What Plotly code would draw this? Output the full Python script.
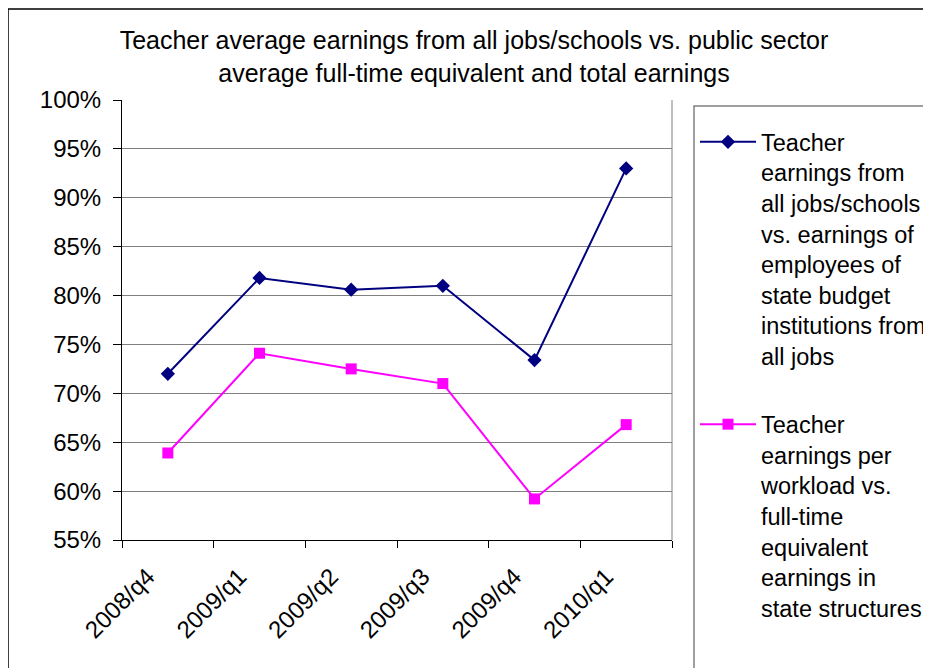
import plotly.graph_objects as go

categories = ["2008/q4", "2009/q1", "2009/q2", "2009/q3", "2009/q4", "2010/q1"]
teacher_all_jobs = [0.720, 0.818, 0.806, 0.810, 0.734, 0.930]
teacher_per_workload = [0.639, 0.741, 0.725, 0.710, 0.592, 0.668]

name_all_jobs = ("Teacher<br>earnings from<br>all jobs/schools<br>vs. earnings of<br>"
                 "employees of<br>state budget<br>institutions from<br>all jobs")
name_workload = ("Teacher<br>earnings per<br>workload vs.<br>full-time<br>equivalent<br>"
                 "earnings in<br>state structures")

FONT = "Liberation Sans, Arial, sans-serif"

fig = go.Figure()
fig.add_trace(go.Scatter(
    x=categories, y=teacher_all_jobs, mode="lines+markers", name=name_all_jobs,
    legendgroup="a",
    line=dict(color="#000080", width=2),
    marker=dict(symbol="diamond", size=11, color="#000080"),
))
fig.add_trace(go.Scatter(
    x=categories, y=teacher_per_workload, mode="lines+markers", name=name_workload,
    legendgroup="b",
    line=dict(color="#FF00FF", width=2),
    marker=dict(symbol="square", size=11, color="#FF00FF"),
))

# page has an 8px body margin: work in reference pixel coordinates, shift by OFF
OFF = 8
W, H = 931 - OFF, 668 - OFF
PL, PR, PT, PB = 122, 672, 100, 540   # plot area in reference pixels
L, R, T, B = PL - OFF, (931 - PR), PT - OFF, (668 - PB)
pw, ph = W - L - R, H - T - B

def px_x(x):
    return (x - PL) / pw

def px_y(y):
    return (PB - y) / ph

fig.update_layout(
    width=W, height=H,
    margin=dict(l=L, r=R, t=T, b=B, autoexpand=False),
    paper_bgcolor="white", plot_bgcolor="white",
    font=dict(family=FONT, size=24, color="black"),
    title=dict(
        text="Teacher average earnings from all jobs/schools vs. public sector<br>"
             "average full-time equivalent and total earnings",
        x=(474 - OFF) / W, xref="container", xanchor="center",
        y=1 - (49 - OFF) / H, yref="container", yanchor="top",
        font=dict(family=FONT, size=25, color="black"),
    ),
    xaxis=dict(
        type="category", range=[-0.5, 5.5],
        showline=True, linecolor="black", linewidth=1,
        ticks="outside", tickson="boundaries", ticklen=7, tickcolor="black",
        tickangle=-45, ticklabelshift=-20, ticklabelstandoff=12,
        showgrid=False, zeroline=False,
        tickfont=dict(family=FONT, size=24),
    ),
    yaxis=dict(
        range=[0.55, 1.0], dtick=0.05, tick0=0.55, tickformat=".0%",
        showline=True, linecolor="black", linewidth=1,
        ticks="outside", ticklen=8, tickcolor="black",
        ticklabelstandoff=7,
        showgrid=True, gridcolor="#808080", gridwidth=1,
        zeroline=False,
        tickfont=dict(family=FONT, size=24),
    ),
    legend=dict(
        x=px_x(695), xanchor="left", y=px_y(120), yanchor="top",
        bgcolor="rgba(0,0,0,0)", borderwidth=0,
        valign="top", itemwidth=56, traceorder="grouped", tracegroupgap=35,
        maxheight=900,
        font=dict(family=FONT, size=23.5),
    ),
    showlegend=True,
)

shapes = [
    # right border of plot area
    dict(type="line", xref="paper", yref="paper", x0=1, x1=1, y0=0, y1=1,
         line=dict(color="#808080", width=1)),
    # legend box
    dict(type="rect", xref="paper", yref="paper",
         x0=px_x(694), x1=px_x(960), y0=px_y(106), y1=px_y(700),
         line=dict(color="#808080", width=1.5), fillcolor="rgba(0,0,0,0)", layer="below"),
    # outer chart frame
    dict(type="rect", xref="paper", yref="paper",
         x0=px_x(8), x1=px_x(960), y0=px_y(9), y1=px_y(700),
         line=dict(color="black", width=1.5), fillcolor="rgba(0,0,0,0)", layer="below"),
]
fig.update_layout(shapes=shapes)

fig.write_html("out.html")
